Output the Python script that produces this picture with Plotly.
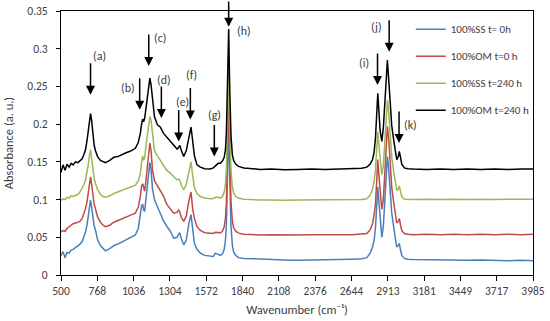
import plotly.graph_objects as go

wavenumber = [
    500, 515, 530, 545, 560, 575, 590, 607, 625, 640,
    656, 670, 681, 692, 700, 710, 718, 726, 735, 745,
    754, 770, 791, 810, 828, 860, 890, 920, 951, 980,
    1010, 1049, 1071, 1086, 1095, 1103, 1110, 1118, 1130, 1145,
    1156, 1165, 1175, 1190, 1212, 1234, 1256, 1280, 1307, 1332,
    1357, 1368, 1376, 1389, 1406, 1425, 1444, 1460, 1472, 1485,
    1504, 1529, 1560, 1603, 1625, 1640, 1660, 1677, 1692, 1705,
    1714, 1721, 1729, 1738, 1746, 1755, 1765, 1774, 1790, 1811,
    1850, 1900, 1971, 2050, 2150, 2250, 2350, 2450, 2550, 2650,
    2720, 2758, 2783, 2800, 2812, 2822, 2831, 2839, 2848, 2856,
    2869, 2880, 2890, 2900, 2910, 2920, 2930, 2942, 2959, 2979,
    2990, 2998, 3007, 3016, 3035, 3060, 3100, 3200, 3300, 3400,
    3500, 3600, 3700, 3800, 3900, 3985,
]

ss_0h = [
    0.026, 0.031, 0.023, 0.030, 0.029, 0.033, 0.034, 0.036, 0.039, 0.041,
    0.044, 0.051, 0.057, 0.066, 0.076, 0.091, 0.0995, 0.090, 0.074, 0.065,
    0.060, 0.047, 0.039, 0.035, 0.032, 0.035, 0.039, 0.041, 0.044, 0.046,
    0.049, 0.053, 0.062, 0.078, 0.092, 0.094, 0.086, 0.085, 0.105, 0.135,
    0.149, 0.140, 0.115, 0.100, 0.090, 0.080, 0.072, 0.065, 0.058, 0.049,
    0.050, 0.054, 0.056, 0.048, 0.040, 0.046, 0.068, 0.080, 0.058, 0.042,
    0.034, 0.029, 0.026, 0.0245, 0.0245, 0.029, 0.027, 0.026, 0.028, 0.034,
    0.046, 0.065, 0.130, 0.200, 0.130, 0.065, 0.040, 0.031, 0.026, 0.023,
    0.022, 0.0215, 0.021, 0.0205, 0.020, 0.0195, 0.0195, 0.020, 0.0205, 0.021,
    0.0215, 0.023, 0.029, 0.037, 0.046, 0.063, 0.090, 0.117, 0.095, 0.075,
    0.050, 0.065, 0.100, 0.140, 0.157, 0.140, 0.112, 0.082, 0.060, 0.037,
    0.039, 0.042, 0.033, 0.026, 0.022, 0.021, 0.0205, 0.020, 0.0195, 0.020,
    0.0195, 0.020, 0.0195, 0.019, 0.0195, 0.019,
]

om_0h = [
    0.057, 0.059, 0.058, 0.062, 0.064, 0.066, 0.068, 0.069, 0.070, 0.071,
    0.075, 0.082, 0.088, 0.097, 0.107, 0.122, 0.130, 0.120, 0.103, 0.094,
    0.088, 0.077, 0.070, 0.066, 0.064, 0.066, 0.070, 0.072, 0.075, 0.076,
    0.079, 0.082, 0.090, 0.105, 0.118, 0.121, 0.114, 0.111, 0.130, 0.160,
    0.175, 0.165, 0.140, 0.125, 0.118, 0.113, 0.105, 0.094, 0.088, 0.082,
    0.083, 0.086, 0.084, 0.076, 0.071, 0.078, 0.098, 0.110, 0.088, 0.075,
    0.064, 0.059, 0.056, 0.0555, 0.055, 0.0565, 0.0565, 0.056, 0.058, 0.064,
    0.075, 0.095, 0.160, 0.235, 0.165, 0.098, 0.072, 0.063, 0.058, 0.0555,
    0.054, 0.0535, 0.053, 0.0535, 0.053, 0.053, 0.0535, 0.053, 0.0535, 0.0535,
    0.054, 0.055, 0.060, 0.068, 0.080, 0.095, 0.125, 0.153, 0.130, 0.110,
    0.087, 0.100, 0.135, 0.178, 0.197, 0.180, 0.150, 0.116, 0.093, 0.069,
    0.071, 0.075, 0.066, 0.059, 0.055, 0.054, 0.0535, 0.054, 0.0535, 0.054,
    0.0535, 0.054, 0.0535, 0.054, 0.0535, 0.054,
]

ss_240h = [
    0.099, 0.101, 0.100, 0.103, 0.102, 0.105, 0.104, 0.106, 0.107, 0.110,
    0.115, 0.120, 0.126, 0.135, 0.145, 0.158, 0.166, 0.155, 0.138, 0.128,
    0.122, 0.113, 0.107, 0.104, 0.103, 0.105, 0.108, 0.110, 0.113, 0.114,
    0.116, 0.119, 0.125, 0.135, 0.150, 0.158, 0.152, 0.156, 0.175, 0.198,
    0.210, 0.205, 0.185, 0.165, 0.158, 0.152, 0.145, 0.139, 0.135, 0.130,
    0.126, 0.127, 0.126, 0.119, 0.113, 0.120, 0.138, 0.150, 0.132, 0.116,
    0.108, 0.104, 0.102, 0.101, 0.1015, 0.103, 0.103, 0.102, 0.104, 0.110,
    0.120, 0.140, 0.200, 0.270, 0.200, 0.140, 0.117, 0.109, 0.104, 0.102,
    0.1005, 0.100, 0.0995, 0.0995, 0.099, 0.0995, 0.0995, 0.0995, 0.100, 0.100,
    0.100, 0.101, 0.106, 0.114, 0.124, 0.140, 0.165, 0.190, 0.170, 0.152,
    0.133, 0.145, 0.175, 0.212, 0.232, 0.215, 0.185, 0.156, 0.134, 0.112,
    0.114, 0.118, 0.110, 0.104, 0.1005, 0.100, 0.100, 0.1005, 0.100, 0.1005,
    0.100, 0.1005, 0.100, 0.1005, 0.100, 0.1005,
]

om_240h = [
    0.136, 0.146, 0.139, 0.147, 0.143, 0.148, 0.146, 0.150, 0.149, 0.152,
    0.154, 0.160, 0.166, 0.178, 0.190, 0.205, 0.214, 0.205, 0.188, 0.172,
    0.165, 0.157, 0.152, 0.150, 0.149, 0.152, 0.156, 0.157, 0.160, 0.162,
    0.164, 0.168, 0.176, 0.188, 0.200, 0.207, 0.203, 0.208, 0.225, 0.250,
    0.261, 0.252, 0.232, 0.210, 0.199, 0.196, 0.188, 0.183, 0.178, 0.172,
    0.167, 0.169, 0.172, 0.165, 0.157, 0.165, 0.183, 0.196, 0.178, 0.158,
    0.146, 0.143, 0.141, 0.1405, 0.142, 0.145, 0.148, 0.148, 0.151, 0.156,
    0.166, 0.188, 0.250, 0.326, 0.245, 0.185, 0.160, 0.152, 0.147, 0.144,
    0.142, 0.141, 0.140, 0.1405, 0.1395, 0.140, 0.1405, 0.140, 0.1405, 0.141,
    0.1415, 0.143, 0.147, 0.153, 0.163, 0.182, 0.210, 0.241, 0.215, 0.192,
    0.177, 0.195, 0.225, 0.262, 0.285, 0.258, 0.230, 0.198, 0.176, 0.153,
    0.157, 0.164, 0.156, 0.147, 0.142, 0.141, 0.1405, 0.140, 0.1405, 0.140,
    0.1405, 0.140, 0.1405, 0.140, 0.1405, 0.1405,
]

series_names = ["100%SS t= 0h", "100%OM t=0 h", "100%SS t=240 h", "100%OM t=240 h"]
series_colors = ["#4A7EBB", "#BE4B48", "#98B954", "#000000"]
x_tick_labels = ["500", "768", "1036", "1304", "1572", "1840", "2108", "2376",
                 "2644", "2913", "3181", "3449", "3717", "3985"]
y_tick_values = [0, 0.05, 0.1, 0.15, 0.2, 0.25, 0.3, 0.35]

# peak markers: label, arrow tip (wavenumber, absorbance), label position
peak_labels = ["(a)", "(b)", "(c)", "(d)", "(e)", "(f)", "(g)", "(h)", "(i)", "(j)", "(k)"]
arrow_tips = [(718, 0.239), (1081, 0.219), (1148, 0.277), (1241, 0.208), (1369, 0.177),
              (1455, 0.206), (1632, 0.157), (1738, 0.329), (2837, 0.252), (2923, 0.296),
              (2996, 0.175)]
label_pos = [(784, 0.290), (998, 0.248), (1234, 0.314), (1262, 0.259), (1394, 0.230),
             (1460, 0.265), (1632, 0.212), (1848, 0.324), (2738, 0.281), (2827, 0.329),
             (3078, 0.199)]

FONT = "Carlito, Lato, sans-serif"

fig = go.Figure()
all_series = [ss_0h, om_0h, ss_240h, om_240h]
for name, color, vals in zip(series_names, series_colors, all_series):
    fig.add_trace(go.Scatter(x=wavenumber, y=vals, mode="lines", name=name,
                             legendgroup=name,
                             line=dict(color=color, width=1.5)))

annotations = []
for lab, (tx, ty), (lx, ly) in zip(peak_labels, arrow_tips, label_pos):
    annotations.append(dict(x=tx, y=ty, xref="x", yref="y", text="", showarrow=True,
                            ax=0, ay=-33, arrowhead=2, arrowsize=1.2, arrowwidth=1.5,
                            arrowcolor="black", standoff=0))
    annotations.append(dict(x=lx, y=ly, xref="x", yref="y", text=lab, showarrow=False,
                            font=dict(family=FONT, size=12, color="#404040")))

fig.update_layout(
    template="none",
    width=550, height=321,
    margin=dict(l=60.5, r=17, t=11, b=46, pad=0, autoexpand=False),
    paper_bgcolor="white", plot_bgcolor="white",
    font=dict(family=FONT, size=11.5, color="#404040"),
    showlegend=True,
    legend=dict(x=0.741, y=0.986, xanchor="left", yanchor="top",
                bgcolor="rgba(0,0,0,0)", font=dict(size=11, color="#404040"),
                traceorder="grouped", tracegroupgap=8, itemwidth=30),
    annotations=annotations,
)
fig.update_xaxes(range=[500, 3985], tickmode="array", automargin=False,
                 tickvals=[float(v) for v in x_tick_labels], ticktext=x_tick_labels,
                 ticklabeloverflow="allow",
                 showline=True, linecolor="black", linewidth=1, mirror=True,
                 ticks="outside", ticklen=5, tickcolor="black", showgrid=False,
                 zeroline=False,
                 title=dict(text="Wavenumber (cm⁻¹)", font=dict(size=12.5, color="#404040"),
                            standoff=8))
fig.update_yaxes(range=[0, 0.35], tickmode="array", tickvals=y_tick_values, automargin=False,
                 ticktext=[f"{v:g}" for v in y_tick_values],
                 ticklabeloverflow="allow", ticklabelstandoff=6,
                 showline=True, linecolor="black", linewidth=1, mirror=True,
                 ticks="outside", ticklen=4, tickcolor="black", showgrid=False,
                 zeroline=False,
                 title=dict(text="Absorbance (a. u.)", font=dict(size=12.5, color="#404040"),
                            standoff=10))

# remove the browser's default 8px body margin so the 550x321 figure fills the window
fig.write_html("out.html", config={"displayModeBar": False},
               post_script="document.body.style.margin='0';document.body.style.overflow='hidden';")
